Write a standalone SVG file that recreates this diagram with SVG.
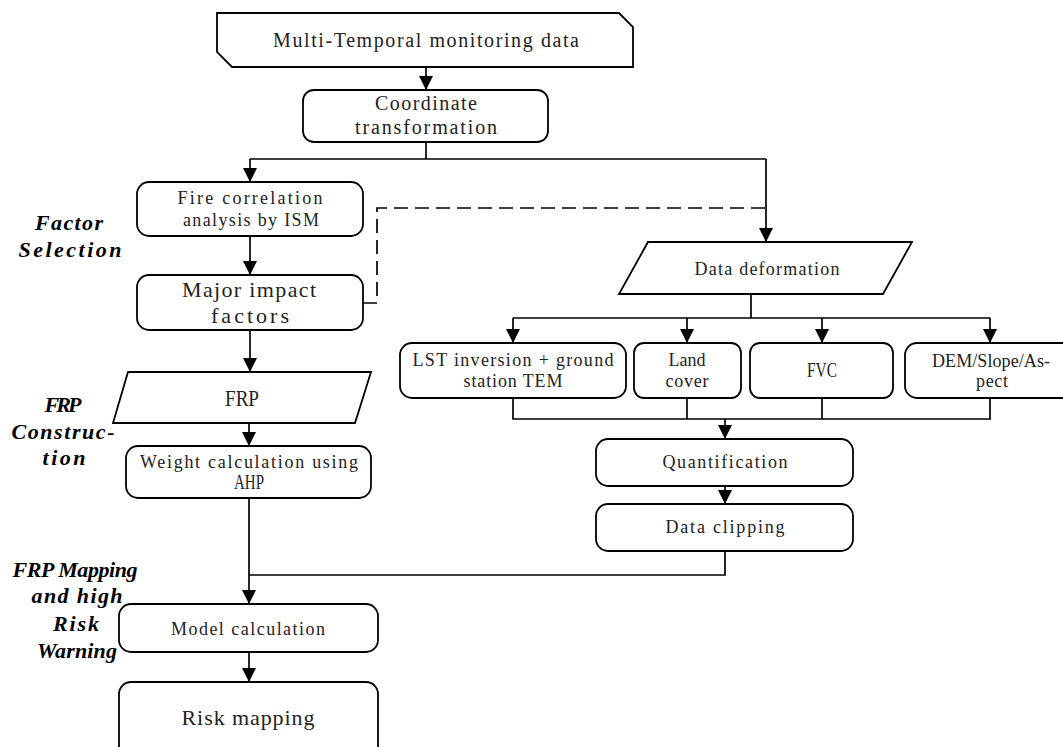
<svg xmlns="http://www.w3.org/2000/svg" width="1063" height="747" viewBox="0 0 1063 747">
<style>
.box{fill:#fff;stroke:#000;stroke-width:1.8}
.ln{fill:none;stroke:#000;stroke-width:1.7}
.dash{fill:none;stroke:#000;stroke-width:1.7;stroke-dasharray:14,7}
text{font-family:"Liberation Serif","Times New Roman",serif;fill:#222;text-anchor:middle}
.s18{font-size:18px}
.s20{font-size:20px}
.s22{font-size:22px}
.s24{font-size:24px}
.side{font-size:22px;font-weight:bold;font-style:italic;fill:#000}
</style>
<defs>
<marker id="arr" viewBox="0 0 14 14" refX="14" refY="7" markerWidth="14" markerHeight="14" orient="auto" markerUnits="userSpaceOnUse">
<path d="M0,0 L14,7 L0,14 z" fill="#000"/>
</marker>
</defs>
<rect width="1063" height="747" fill="#fff"/>

<g id="connectors">
<line class="ln" x1="426" y1="67" x2="426" y2="90" marker-end="url(#arr)"/>
<polyline class="ln" points="426,142 426,159"/>
<polyline class="ln" points="250,159 766,159"/>
<line class="ln" x1="250" y1="159" x2="250" y2="182" marker-end="url(#arr)"/>
<line class="ln" x1="766" y1="159" x2="766" y2="242" marker-end="url(#arr)"/>
<line class="ln" x1="250" y1="236" x2="250" y2="275" marker-end="url(#arr)"/>
<line class="ln" x1="250" y1="330" x2="250" y2="372" marker-end="url(#arr)"/>
<line class="ln" x1="249" y1="423" x2="249" y2="446" marker-end="url(#arr)"/>
<line class="ln" x1="249" y1="498" x2="249" y2="604" marker-end="url(#arr)"/>
<polyline class="ln" points="725,551 725,575 249,575"/>
<line class="ln" x1="249" y1="652" x2="249" y2="682" marker-end="url(#arr)"/>
<polyline class="dash" points="363,303 377,303 377,208 766,208"/>
<polyline class="ln" points="751,294 751,318"/>
<polyline class="ln" points="513,318 990,318"/>
<line class="ln" x1="513" y1="318" x2="513" y2="343" marker-end="url(#arr)"/>
<line class="ln" x1="687" y1="318" x2="687" y2="343" marker-end="url(#arr)"/>
<line class="ln" x1="822" y1="318" x2="822" y2="343" marker-end="url(#arr)"/>
<line class="ln" x1="990" y1="318" x2="990" y2="343" marker-end="url(#arr)"/>
<polyline class="ln" points="513,398 513,419 990,419 990,398"/>
<polyline class="ln" points="687,398 687,419"/>
<polyline class="ln" points="822,398 822,419"/>
<line class="ln" x1="725" y1="419" x2="725" y2="439" marker-end="url(#arr)"/>
<line class="ln" x1="725" y1="486" x2="725" y2="504" marker-end="url(#arr)"/>
</g>

<g id="n-multi">
<polygon class="box" points="217,13 619,13 633,27 633,67 232,67 217,52"/>
<text class="s20" x="426" y="47" textLength="306" lengthAdjust="spacing">Multi-Temporal monitoring data</text>
</g>
<g id="n-coord">
<rect class="box" x="303" y="90" width="245" height="52" rx="11"/>
<text class="s20" x="426" y="110" textLength="102" lengthAdjust="spacing">Coordinate</text>
<text class="s20" x="426" y="134" textLength="142" lengthAdjust="spacing">transformation</text>
</g>
<g id="n-fire">
<rect class="box" x="137" y="182" width="226" height="54" rx="12"/>
<text class="s18" x="250" y="204" textLength="145" lengthAdjust="spacing">Fire correlation</text>
<text class="s18" x="251" y="226" textLength="136" lengthAdjust="spacing">analysis by ISM</text>
</g>
<g id="n-major">
<rect class="box" x="137" y="275" width="226" height="55" rx="12"/>
<text class="s22" x="249" y="297" textLength="134" lengthAdjust="spacing">Major impact</text>
<text class="s22" x="250" y="323" textLength="78" lengthAdjust="spacing">factors</text>
</g>
<g id="n-frp">
<polygon class="box" points="128,372 371,372 355,423 113,423"/>
<text class="s24" x="242" y="406" textLength="34" lengthAdjust="spacingAndGlyphs">FRP</text>
</g>
<g id="n-weight">
<rect class="box" x="126" y="446" width="245" height="52" rx="12"/>
<text class="s18" x="249" y="468" textLength="218" lengthAdjust="spacing">Weight calculation using</text>
<text class="s20" x="249" y="489" textLength="30" lengthAdjust="spacingAndGlyphs">AHP</text>
</g>
<g id="n-model">
<rect class="box" x="119" y="604" width="259" height="48" rx="12"/>
<text class="s18" x="248" y="635" textLength="154" lengthAdjust="spacing">Model calculation</text>
</g>
<g id="n-risk">
<rect class="box" x="119" y="682" width="259" height="78" rx="12"/>
<text class="s22" x="248" y="725" textLength="133" lengthAdjust="spacing">Risk mapping</text>
</g>
<g id="n-deform">
<polygon class="box" points="648,242 912,242 883,294 619,294"/>
<text class="s18" x="767" y="275" textLength="145" lengthAdjust="spacing">Data deformation</text>
</g>
<g id="n-lst">
<rect class="box" x="400" y="343" width="226" height="55" rx="12"/>
<text class="s18" x="513" y="366" textLength="201" lengthAdjust="spacing">LST inversion + ground</text>
<text class="s18" x="513" y="387" textLength="99" lengthAdjust="spacing">station TEM</text>
</g>
<g id="n-land">
<rect class="box" x="634" y="343" width="107" height="55" rx="10"/>
<text class="s18" x="687" y="366" textLength="37" lengthAdjust="spacing">Land</text>
<text class="s18" x="687" y="387" textLength="43" lengthAdjust="spacing">cover</text>
</g>
<g id="n-fvc">
<rect class="box" x="750" y="343" width="143" height="55" rx="10"/>
<text class="s20" x="822" y="377" textLength="30" lengthAdjust="spacingAndGlyphs">FVC</text>
</g>
<g id="n-dem">
<rect class="box" x="905" y="343" width="172" height="55" rx="12"/>
<text class="s18" x="991" y="367" textLength="118" lengthAdjust="spacing">DEM/Slope/As-</text>
<text class="s18" x="992" y="387" textLength="32" lengthAdjust="spacing">pect</text>
</g>
<g id="n-quant">
<rect class="box" x="596" y="439" width="257" height="47" rx="12"/>
<text class="s18" x="725" y="468" textLength="125" lengthAdjust="spacing">Quantification</text>
</g>
<g id="n-clip">
<rect class="box" x="596" y="504" width="257" height="47" rx="12"/>
<text class="s18" x="725" y="533" textLength="119" lengthAdjust="spacing">Data clipping</text>
</g>

<g id="side-labels">
<text class="side" x="69" y="230" textLength="68" lengthAdjust="spacing">Factor</text>
<text class="side" x="70" y="257" textLength="103" lengthAdjust="spacing">Selection</text>
<text class="side" x="63" y="412" textLength="37" lengthAdjust="spacing">FRP</text>
<text class="side" x="63" y="439" textLength="103" lengthAdjust="spacing">Construc-</text>
<text class="side" x="64" y="465" textLength="43" lengthAdjust="spacing">tion</text>
<text class="side" x="75" y="577" textLength="125" lengthAdjust="spacing">FRP Mapping</text>
<text class="side" x="77" y="603" textLength="91" lengthAdjust="spacing">and high</text>
<text class="side" x="76" y="631" textLength="46" lengthAdjust="spacing">Risk</text>
<text class="side" x="77" y="658" textLength="80" lengthAdjust="spacing">Warning</text>
</g>
</svg>
